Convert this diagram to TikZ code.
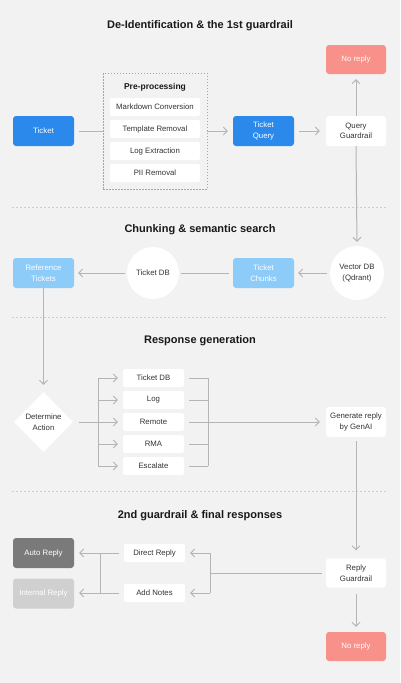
\documentclass[tikz,border=0pt]{standalone}
\usepackage{fontspec}
\setmainfont{Liberation Sans}
\usetikzlibrary{arrows.meta,shapes.geometric}
\definecolor{cBg}{HTML}{F2F2F2}
\definecolor{cBlue}{HTML}{2C89EC}
\definecolor{cLBlue}{HTML}{8DCBF9}
\definecolor{cRed}{HTML}{F8918A}
\definecolor{cDark}{HTML}{7A7A7A}
\definecolor{cGrey}{HTML}{D0D0D0}
\definecolor{cLine}{HTML}{B5B5B5}
\definecolor{cSep}{HTML}{CCCCCC}
\definecolor{cTxt}{HTML}{333333}
\tikzset{
  box/.style={rectangle, rounded corners=3pt, minimum width=61pt, minimum height=30pt,
    align=center, font=\fontsize{7.8}{10.5}\selectfont, inner sep=1pt, text=white},
  wbox/.style={box, fill=white, text=cTxt},
  bluebox/.style={box, fill=cBlue},
  lbluebox/.style={box, fill=cLBlue},
  redbox/.style={box, fill=cRed},
  darkbox/.style={box, fill=cDark},
  greybox/.style={box, fill=cGrey},
  subbox/.style={rectangle, rounded corners=2pt, fill=white, text=cTxt, minimum width=90pt,
    minimum height=18pt, inner sep=1pt, font=\fontsize{7.8}{10}\selectfont},
  optbox/.style={subbox, minimum width=61pt},
  circ/.style={circle, fill=white, text=cTxt, align=center, inner sep=0pt,
    font=\fontsize{7.8}{10.5}\selectfont},
  diam/.style={diamond, fill=white, text=cTxt, align=center, inner sep=0pt,
    minimum width=59pt, minimum height=60pt, font=\fontsize{7.8}{10.5}\selectfont},
  ttl/.style={font=\fontsize{11}{13}\selectfont\bfseries, text=black!90},
  conn/.style={draw=cLine, line width=1pt},
  arr/.style={conn, -{Straight Barb[length=3.8pt,width=8pt]}},
  sepline/.style={draw=cSep, line width=0.8pt, dash pattern=on 2pt off 2pt},
}
\begin{document}
\begin{tikzpicture}[x=1pt,y=-1pt]
\fill[cBg] (0,0) rectangle (400,683);
\useasboundingbox (0,0) rectangle (400,683);

% ---- Section 1
\node[ttl] (t1) at (200,26) {De-Identification \& the 1st guardrail};
\node[redbox, minimum width=60pt, minimum height=29pt] (nr1) at (356,59.5) {No reply};
\node[draw=black!35, dash pattern=on 1.5pt off 1.5pt, line width=0.8pt, rectangle,
  minimum width=104pt, minimum height=116pt] (pre) at (155,131) {};
\node[font=\fontsize{8.5}{10}\selectfont\bfseries, text=black!90] (pret) at (155,87) {Pre-processing};
\node[subbox] (md) at (155,107) {Markdown Conversion};
\node[subbox] (tr) at (155,129) {Template Removal};
\node[subbox] (le) at (155,151) {Log Extraction};
\node[subbox] (pii) at (155,173) {PII Removal};
\node[bluebox] (ticket) at (43.5,131) {Ticket};
\node[bluebox] (tq) at (263.5,131) {Ticket\\Query};
\node[wbox, minimum width=60pt] (qg) at (356,131) {Query\\Guardrail};

\draw[conn, shorten <=5pt] (ticket.east) -- (pre.west);
\draw[arr, shorten >=5pt] (pre.east) -- (tq.west);
\draw[arr, shorten <=5pt, shorten >=6pt] (tq.east) -- (qg.west);
\draw[arr, shorten >=5pt] (qg.north) -- (nr1.south);

\draw[sepline] (12,207) -- (388,207);

% ---- Section 2
\node[ttl] (t2) at (200,230) {Chunking \& semantic search};
\node[circ, minimum size=54pt] (vdb) at (357,273) {Vector DB\\(Qdrant)};
\node[lbluebox] (tc) at (263.5,273) {Ticket\\Chunks};
\node[circ, minimum size=52pt] (tdb) at (153,273) {Ticket DB};
\node[lbluebox] (ref) at (43.5,273) {Reference\\Tickets};

\draw[arr, shorten >=4pt] (qg.south) -- (vdb.north);
\draw[arr, shorten <=3pt, shorten >=4pt] (vdb.west) -- (tc.east);
\draw[conn, shorten <=4pt, shorten >=2pt] (tc.west) -- (tdb.east);
\draw[arr, shorten <=2pt, shorten >=4pt] (tdb.west) -- (ref.east);

\draw[sepline] (12,317) -- (388,317);

% ---- Section 3
\node[ttl] (t3) at (200,341) {Response generation};
\node[diam] (da) at (43.5,422) {Determine\\Action};
\node[optbox] (o1) at (153.5,378) {Ticket DB};
\node[optbox] (o2) at (153.5,400) {Log};
\node[optbox] (o3) at (153.5,422) {Remote};
\node[optbox] (o4) at (153.5,444) {RMA};
\node[optbox] (o5) at (153.5,466) {Escalate};
\node[wbox, minimum width=60pt] (gen) at (356,422) {Generate reply\\by GenAI};

\draw[arr, shorten >=7pt] (ref.south) -- (da.north);

\coordinate (bt) at (98,378);
\coordinate (bb) at (98,466);
\draw[conn] (bt) -- (bb);
\draw[arr, shorten <=6pt, shorten >=5pt] (da.east) -- (o3.west);
\foreach \o in {o1,o2,o4,o5}
  \draw[arr, shorten >=5pt] (bt |- \o) -- (\o.west);

\coordinate (rt) at (208,378);
\coordinate (rb) at (208,466);
\draw[conn] (rt) -- (rb);
\foreach \o in {o1,o2,o4,o5}
  \draw[conn, shorten <=5pt] (\o.east) -- (rt |- \o);
\draw[arr, shorten <=5pt, shorten >=6pt] (o3.east) -- (gen.west);

\draw[sepline] (12,491) -- (388,491);

% ---- Section 4
\node[ttl] (t4) at (200,516) {2nd guardrail \& final responses};
\node[wbox, minimum width=60pt, minimum height=29pt] (rg) at (356,573) {Reply\\Guardrail};
\node[optbox] (dr) at (154.5,553) {Direct Reply};
\node[optbox] (an) at (154.5,593) {Add Notes};
\node[darkbox] (auto) at (43.5,553) {Auto Reply};
\node[greybox] (int) at (43.5,593.5) {Internal Reply};
\node[redbox, minimum width=60pt, minimum height=29pt] (nr2) at (356,646.5) {No reply};

\draw[arr, shorten <=4pt, shorten >=8pt] (gen.south) -- (rg.north);

\coordinate (jt) at (210,553);
\coordinate (jb) at (210,593);
\draw[conn, shorten <=4pt] (rg.west) -- (jt |- rg);
\draw[conn] (jt) -- (jb);
\draw[arr, shorten >=5pt] (jt) -- (dr.east);
\draw[arr, shorten >=5pt] (jb) -- (an.east);

\coordinate (lt) at (100,553);
\coordinate (lb) at (100,593);
\draw[conn] (lt) -- (lb);
\draw[arr, shorten <=5pt, shorten >=5pt] (dr.west) -- (auto.east);
\draw[arr, shorten <=5pt, shorten >=5pt] (an.west) -- (int.east |- an);

\draw[arr, shorten <=6pt, shorten >=5pt] (rg.south) -- (nr2.north);
\end{tikzpicture}
\end{document}
